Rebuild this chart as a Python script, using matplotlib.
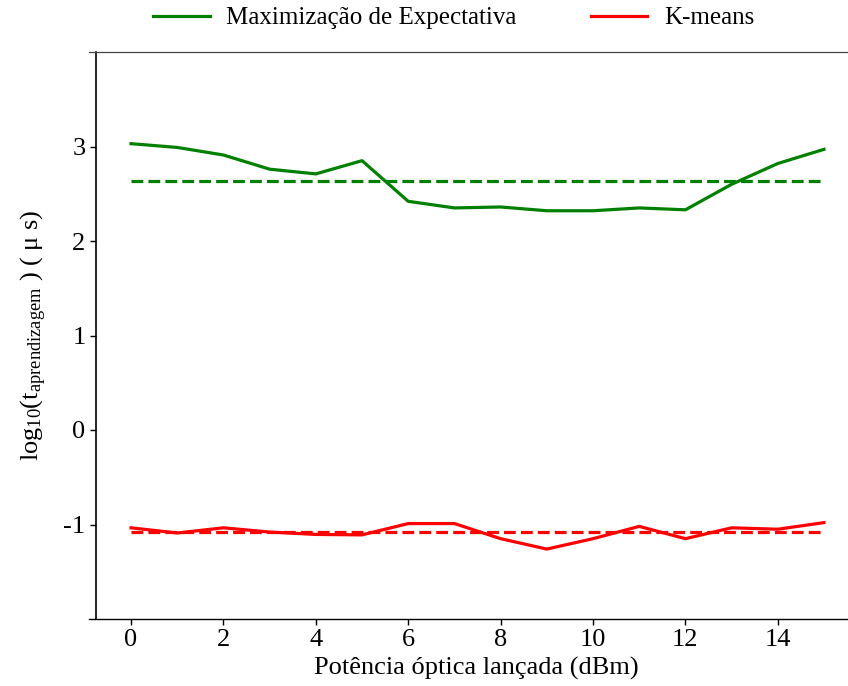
import matplotlib
matplotlib.use("Agg")
import matplotlib.pyplot as plt
import numpy as np

plt.rcParams['font.family'] = ['Liberation Serif', 'DejaVu Serif']
plt.rcParams['mathtext.fontset'] = 'custom'
plt.rcParams['mathtext.rm'] = 'Liberation Serif'
plt.rcParams['mathtext.it'] = 'Liberation Serif:italic'

potencia = list(range(16))
em_tempo = [3.03, 2.99, 2.91, 2.76, 2.71, 2.85, 2.42, 2.35, 2.36, 2.32, 2.32, 2.35, 2.33, 2.60, 2.82, 2.97]
km_tempo = [-1.035, -1.09, -1.035, -1.08, -1.105, -1.11, -0.99, -0.99, -1.15, -1.26, -1.15, -1.02, -1.15, -1.035, -1.05, -0.98]
em_media = 2.63
km_media = -1.08
xticks = [0, 2, 4, 6, 8, 10, 12, 14]
yticks = [-1, 0, 1, 2, 3]

W, H = 848, 686
fig = plt.figure(figsize=(W/100, H/100), dpi=100)
ax = fig.add_axes([89/W, 1-619/H, 1-89/W, (619-52)/H])

lw = 2.3
ax.plot(potencia, em_tempo, color='#008000', lw=lw, label='Maximização de Expectativa')
ax.plot(potencia, km_tempo, color='#ff0000', lw=lw, label='K-means')
ax.plot([potencia[0], potencia[-1]], [em_media, em_media], color='#008000', lw=lw, ls='--')
ax.plot([potencia[0], potencia[-1]], [km_media, km_media], color='#ff0000', lw=lw, ls='--')

ax.set_xlim(-0.91, 15.52)
ax.set_ylim(-2, 4)
ax.set_xticks(xticks)
ax.set_yticks(yticks)
ax.set_yticklabels([str(v) for v in yticks])
ax.tick_params(labelsize=19, length=4, width=1, direction='out')

ax.spines['right'].set_visible(False)
ax.spines['top'].set_color('#444444')
ax.spines['top'].set_linewidth(0.9)
ax.spines['left'].set_position(('data', -0.76))
ax.spines['left'].set_linewidth(1.2)
ax.spines['bottom'].set_linewidth(1.0)

ax.set_xlabel('Potência óptica lançada (dBm)', fontsize=19)
ax.xaxis.set_label_coords((476-89)/759, -(668-619)/567, transform=ax.transAxes)
ax.xaxis.label.set_va('center')
ax.set_ylabel(r'log$_{10}$(t$_{\mathrm{aprendizagem}}$ ) ( μ s)', fontsize=19, labelpad=10)

fig.legend(loc='center', bbox_to_anchor=(0.535, 1-18/H), ncol=2, frameon=False,
           fontsize=18, handlelength=2.25, columnspacing=3.0, handletextpad=0.65)

fig.savefig('out.png', dpi=100)
